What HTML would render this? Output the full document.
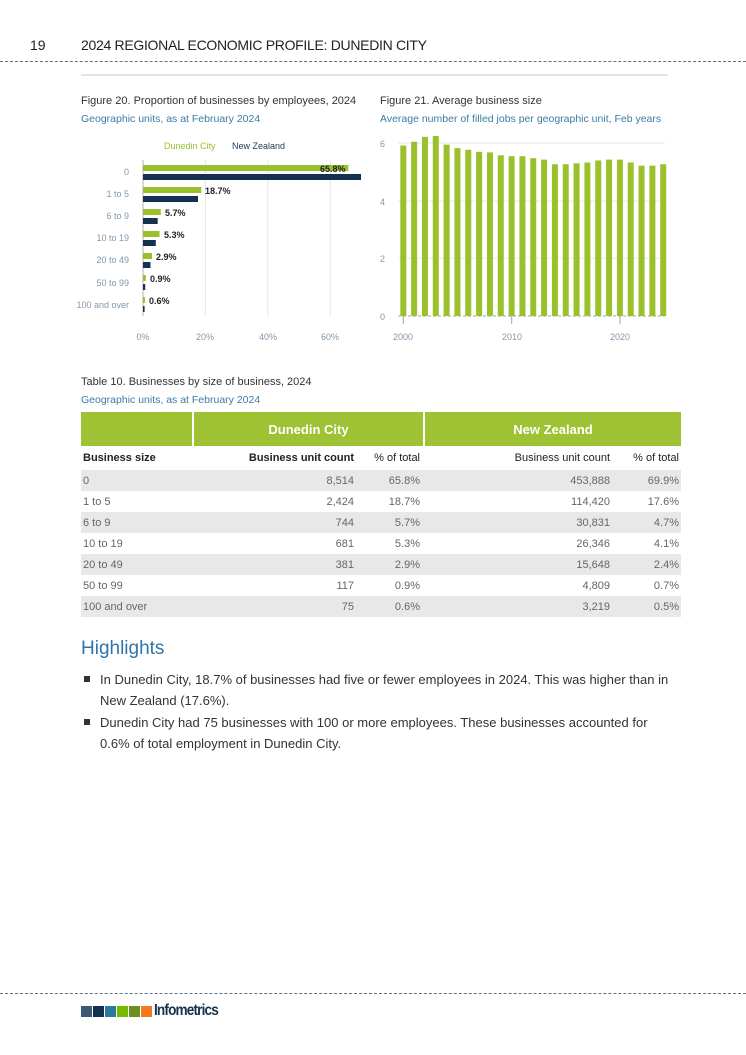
<!DOCTYPE html>
<html><head><meta charset="utf-8"><style>
body{margin:0;width:746px;height:1055px;background:#fff;font-family:"Liberation Sans",sans-serif;position:relative;overflow:hidden;color:#333}
.a{position:absolute;white-space:nowrap}
.dash{position:absolute;left:0;width:746px;border-top:1px dashed #5a7388}
table{border-collapse:collapse;font-size:11px}
</style></head><body>
<div class="a" style="left:30px;top:37px;font-size:14px;color:#222">19</div>
<div class="a" style="left:81px;top:37px;font-size:14px;color:#222;letter-spacing:-0.3px">2024 REGIONAL ECONOMIC PROFILE: DUNEDIN CITY</div>
<div class="dash" style="top:61px"></div>
<div class="a" style="left:81px;top:74px;width:587px;height:2px;background:#e1e4e8"></div>

<div class="a" style="left:81px;top:95px;font-size:11px;color:#333">Figure 20. Proportion of businesses by employees, 2024</div>
<div class="a" style="left:81px;top:113px;font-size:10.5px;color:#3a7ca5">Geographic units, as at February 2024</div>
<div class="a" style="left:380px;top:95px;font-size:11px;color:#333">Figure 21. Average business size</div>
<div class="a" style="left:380px;top:113px;font-size:10.5px;color:#3a7ca5">Average number of filled jobs per geographic unit, Feb years</div>

<svg class="a" style="left:0;top:0" width="746" height="360" font-family="Liberation Sans" font-size="9">
<text x="164" y="149" fill="#9ac12c">Dunedin City</text>
<text x="232" y="149" fill="#1b3a57">New Zealand</text>
<g stroke="#e3e6ea"><line x1="205.4" y1="160" x2="205.4" y2="316"/><line x1="267.8" y1="160" x2="267.8" y2="316"/><line x1="330.2" y1="160" x2="330.2" y2="316"/></g>
<line x1="143" y1="160" x2="143" y2="316" stroke="#aab4be"/>
<g fill="#8497a8" text-anchor="end">
<text x="129" y="175">0</text><text x="129" y="197">1 to 5</text><text x="129" y="219">6 to 9</text><text x="129" y="241">10 to 19</text><text x="129" y="263">20 to 49</text><text x="129" y="286">50 to 99</text><text x="129" y="308">100 and over</text>
</g>
<g fill="#8497a8" text-anchor="middle"><text x="143" y="340">0%</text><text x="205" y="340">20%</text><text x="268" y="340">40%</text><text x="330" y="340">60%</text></g>
<g fill="#9ac12c">
<rect x="143" y="165" width="205.3" height="6"/><rect x="143" y="187" width="58.3" height="6"/><rect x="143" y="209" width="17.8" height="6"/><rect x="143" y="231" width="16.5" height="6"/><rect x="143" y="253" width="9" height="6"/><rect x="143" y="275" width="2.8" height="6"/><rect x="143" y="297" width="1.9" height="6"/>
</g>
<g fill="#14324f">
<rect x="143" y="174" width="218" height="6"/><rect x="143" y="196" width="55" height="6"/><rect x="143" y="218" width="14.7" height="6"/><rect x="143" y="240" width="12.8" height="6"/><rect x="143" y="262" width="7.5" height="6"/><rect x="143" y="284" width="2.2" height="6"/><rect x="143" y="306" width="1.6" height="6"/>
</g>
<g fill="#222" font-size="9" font-weight="bold">
<text x="320" y="172">65.8%</text><text x="205" y="194">18.7%</text><text x="165" y="216">5.7%</text><text x="164" y="238">5.3%</text><text x="156" y="260">2.9%</text><text x="150" y="282">0.9%</text><text x="149" y="304">0.6%</text>
</g>
<g stroke="#e6e9ec"><line x1="398" y1="143" x2="665" y2="143"/><line x1="398" y1="201" x2="665" y2="201"/><line x1="398" y1="258" x2="665" y2="258"/></g>
<line x1="398" y1="316" x2="665" y2="316" stroke="#9aa5b0" stroke-dasharray="3,2"/>
<g stroke="#9aa5b0"><line x1="403.3" y1="316" x2="403.3" y2="324"/><line x1="511.7" y1="316" x2="511.7" y2="324"/><line x1="620" y1="316" x2="620" y2="324"/></g>
<g fill="#8497a8"><text x="380" y="147">6</text><text x="380" y="205">4</text><text x="380" y="262">2</text><text x="380" y="320">0</text>
<text x="403" y="340" text-anchor="middle">2000</text><text x="512" y="340" text-anchor="middle">2010</text><text x="620" y="340" text-anchor="middle">2020</text></g>
<g fill="#9ac12c" id="b2"></g>
<line x1="60" y1="361" x2="668" y2="361" stroke="#e1e4e8" stroke-width="2"/>
</svg>
<script>
var v=[5.92,6.05,6.22,6.25,5.95,5.83,5.77,5.7,5.68,5.58,5.55,5.55,5.48,5.43,5.27,5.27,5.3,5.33,5.4,5.43,5.43,5.33,5.22,5.22,5.27],s='';
v.forEach(function(d,i){var x=403.3+i*10.83-3,h=d*28.8;s+='<rect x="'+x+'" y="'+(316-h)+'" width="6" height="'+h+'"/>';});
document.getElementById('b2').innerHTML=s;
</script>

<div class="a" style="left:81px;top:376px;font-size:11px;color:#333">Table 10. Businesses by size of business, 2024</div>
<div class="a" style="left:81px;top:394px;font-size:10.5px;color:#3a7ca5">Geographic units, as at February 2024</div>
<table class="a" style="left:81px;top:412px;width:600px">
<tr style="background:#9ec233;height:34px;color:#fff;font-size:13px;font-weight:bold"><td style="width:109px;border-right:2px solid #fff"></td><td colspan="2" style="text-align:center;border-right:2px solid #fff">Dunedin City</td><td colspan="2" style="text-align:center">New Zealand</td></tr>
<tr style="height:24px;color:#222"><td style="padding-left:2px;font-weight:bold">Business size</td><td style="text-align:right;width:160px;font-weight:bold">Business unit count</td><td style="text-align:right;width:64px;padding-right:4px">% of total</td><td style="text-align:right;width:185px">Business unit count</td><td style="text-align:right;padding-right:2px">% of total</td></tr>
<tbody style="color:#666">
<tr style="height:21px;background:#e8e8e8"><td style="padding-left:2px">0</td><td align="right">8,514</td><td align="right" style="padding-right:4px">65.8%</td><td align="right">453,888</td><td align="right" style="padding-right:2px">69.9%</td></tr>
<tr style="height:21px"><td style="padding-left:2px">1 to 5</td><td align="right">2,424</td><td align="right" style="padding-right:4px">18.7%</td><td align="right">114,420</td><td align="right" style="padding-right:2px">17.6%</td></tr>
<tr style="height:21px;background:#e8e8e8"><td style="padding-left:2px">6 to 9</td><td align="right">744</td><td align="right" style="padding-right:4px">5.7%</td><td align="right">30,831</td><td align="right" style="padding-right:2px">4.7%</td></tr>
<tr style="height:21px"><td style="padding-left:2px">10 to 19</td><td align="right">681</td><td align="right" style="padding-right:4px">5.3%</td><td align="right">26,346</td><td align="right" style="padding-right:2px">4.1%</td></tr>
<tr style="height:21px;background:#e8e8e8"><td style="padding-left:2px">20 to 49</td><td align="right">381</td><td align="right" style="padding-right:4px">2.9%</td><td align="right">15,648</td><td align="right" style="padding-right:2px">2.4%</td></tr>
<tr style="height:21px"><td style="padding-left:2px">50 to 99</td><td align="right">117</td><td align="right" style="padding-right:4px">0.9%</td><td align="right">4,809</td><td align="right" style="padding-right:2px">0.7%</td></tr>
<tr style="height:21px;background:#e8e8e8"><td style="padding-left:2px">100 and over</td><td align="right">75</td><td align="right" style="padding-right:4px">0.6%</td><td align="right">3,219</td><td align="right" style="padding-right:2px">0.5%</td></tr>
</tbody></table>

<div class="a" style="left:81px;top:638px;font-size:19px;color:#2e75a8">Highlights</div>
<div class="a" style="left:84px;top:676px;width:6px;height:6px;background:#333"></div>
<div class="a" style="left:100px;top:669px;font-size:13px;line-height:21px;color:#333;white-space:normal;width:570px">In Dunedin City, 18.7% of businesses had five or fewer employees in 2024. This was higher than in New Zealand (17.6%).</div>
<div class="a" style="left:84px;top:719px;width:6px;height:6px;background:#333"></div>
<div class="a" style="left:100px;top:712px;font-size:13px;line-height:21px;color:#333;white-space:normal;width:562px">Dunedin City had 75 businesses with 100 or more employees. These businesses accounted for 0.6% of total employment in Dunedin City.</div>

<div class="dash" style="top:993px"></div>
<div class="a" style="left:81px;top:1006px;width:11px;height:11px;background:#3b5a78"></div>
<div class="a" style="left:93px;top:1006px;width:11px;height:11px;background:#14324f"></div>
<div class="a" style="left:105px;top:1006px;width:11px;height:11px;background:#2a7b9b"></div>
<div class="a" style="left:117px;top:1006px;width:11px;height:11px;background:#7ab800"></div>
<div class="a" style="left:129px;top:1006px;width:11px;height:11px;background:#6b9020"></div>
<div class="a" style="left:141px;top:1006px;width:11px;height:11px;background:#f47920"></div>
<div class="a" style="left:154px;top:1002px;font-size:16px;font-weight:bold;color:#14324f;letter-spacing:-1px;transform:scaleX(0.85);transform-origin:left">Infometrics</div>
</body></html>
